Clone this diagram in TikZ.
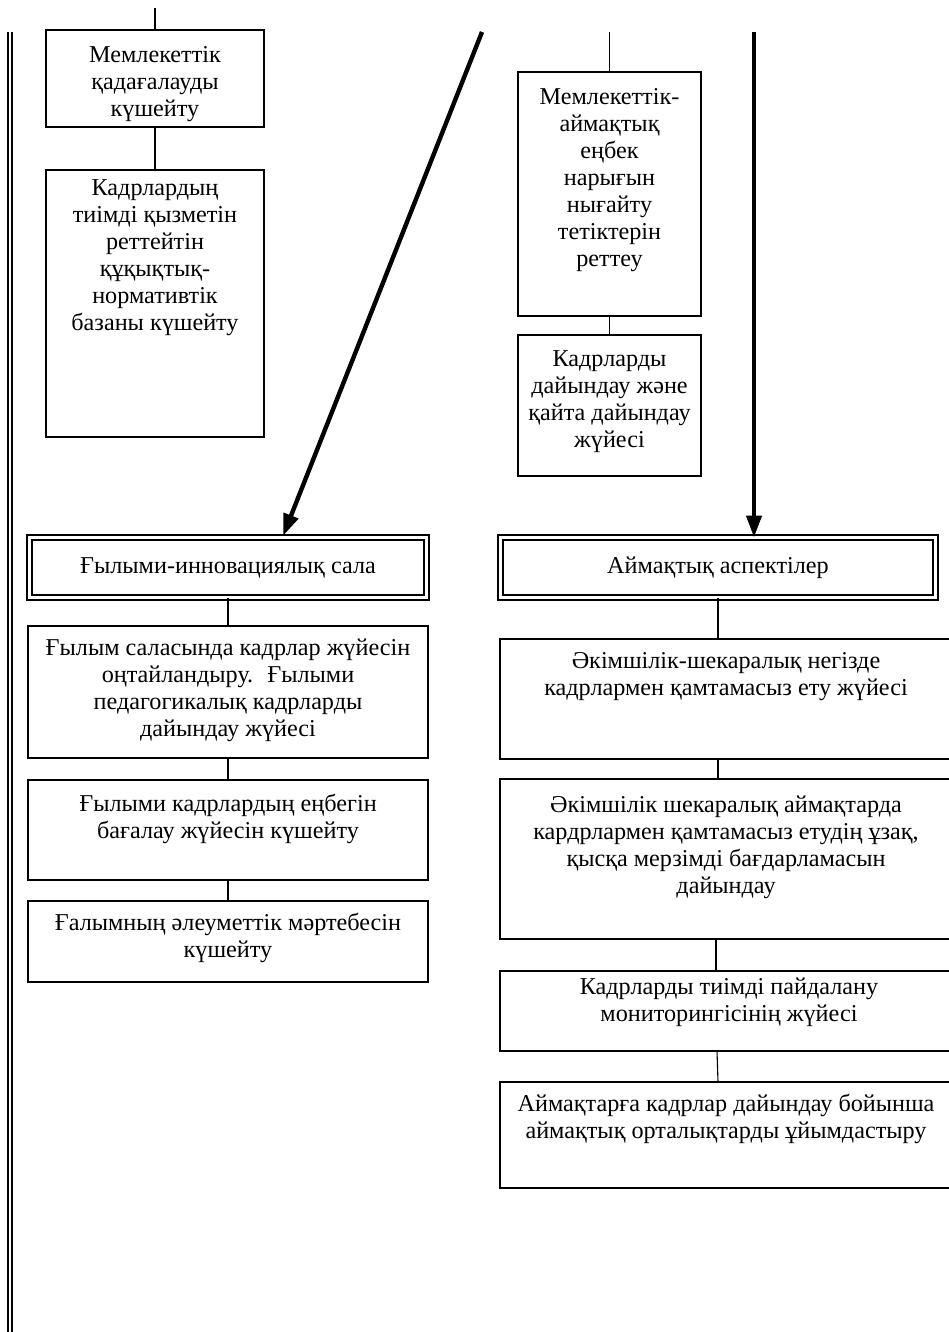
\documentclass[tikz,border=0pt]{standalone}
\usepackage{fontspec}
\setmainfont{Liberation Serif}
\usetikzlibrary{arrows.meta}
\begin{document}
\begin{tikzpicture}[x=1pt,y=-1pt,
  boxframe/.style={draw, line width=1.5pt, inner sep=0pt, outer sep=0pt},
  dblframe/.style={draw, double, line width=1.8pt, double distance=2.6pt, inner sep=0pt, outer sep=0pt},
  boxtext/.style={anchor=north, align=center, inner sep=0pt, font=\fontsize{24.2}{27}\selectfont},
  link/.style={line width=1.1pt},
  bigarrow/.style={line width=4.4pt, -{Triangle[length=22pt,width=15pt]}},
  sideline/.style={double, line width=1.9pt, double distance=2.4pt}
]
\useasboundingbox (0,0) rectangle (948,1332);

% left double rule
\coordinate (sl1) at (10.2,32);
\coordinate (sl2) at (10.2,1345);
\draw[sideline] (sl1) -- (sl2);

% boxes
\node[boxframe, minimum width=218pt, minimum height=97pt]  (A) at (155,78.5) {};
\node[boxframe, minimum width=218pt, minimum height=267pt] (B) at (155,303.5) {};
\node[boxframe, minimum width=183pt, minimum height=244pt] (C) at (609.5,194) {};
\node[boxframe, minimum width=183pt, minimum height=141pt] (D) at (609.5,405.5) {};
\node[dblframe, minimum width=397pt, minimum height=60pt]  (E) at (228,567.5) {};
\node[dblframe, minimum width=435pt, minimum height=60pt]  (I) at (718,567.5) {};
\node[boxframe, minimum width=400pt, minimum height=132pt] (F) at (228,692) {};
\node[boxframe, minimum width=400pt, minimum height=100pt] (G) at (228,830) {};
\node[boxframe, minimum width=400pt, minimum height=81pt]  (H) at (228,941.5) {};
\node[boxframe, minimum width=452pt, minimum height=120pt] (J) at (726,699) {};
\node[boxframe, minimum width=452pt, minimum height=160pt] (K) at (726,859) {};
\node[boxframe, minimum width=452pt, minimum height=80pt]  (L) at (726,1011) {};
\node[boxframe, minimum width=452pt, minimum height=106pt] (M) at (726,1135) {};

% texts (north = first baseline - 21)
\node[boxtext] (tA) at (155,41) {\rule{0pt}{21pt}Мемлекеттік\\қадағалауды\\күшейту};
\node[boxtext] (tB) at (155,174) {\rule{0pt}{21pt}Кадрлардың\\тиімді қызметін\\реттейтін\\құқықтық-\\нормативтік\\базаны күшейту};
\node[boxtext] (tC) at (609.5,83) {\rule{0pt}{21pt}Мемлекеттік-\\аймақтық\\еңбек\\нарығын\\нығайту\\тетіктерін\\реттеу};
\node[boxtext] (tD) at (609.5,345) {\rule{0pt}{21pt}Кадрларды\\дайындау және\\қайта дайындау\\жүйесі};
\node[boxtext] (tE) at (228,552) {\rule{0pt}{21pt}Ғылыми-инновациялық сала};
\node[boxtext] (tI) at (718,552) {\rule{0pt}{21pt}Аймақтық аспектілер};
\node[boxtext] (tF) at (228,634) {\rule{0pt}{21pt}Ғылым саласында кадрлар жүйесін\\оңтайландыру.~ Ғылыми\\педагогикалық кадрларды\\дайындау жүйесі};
\node[boxtext] (tG) at (228,790) {\rule{0pt}{21pt}Ғылыми кадрлардың еңбегін\\бағалау жүйесін күшейту};
\node[boxtext] (tH) at (228,909) {\rule{0pt}{21pt}Ғалымның әлеуметтік мәртебесін\\күшейту};
\node[boxtext] (tJ) at (726,647) {\rule{0pt}{21pt}Әкімшілік-шекаралық негізде\\кадрлармен қамтамасыз ету жүйесі};
\node[boxtext] (tK) at (726,791) {\rule{0pt}{21pt}Әкімшілік шекаралық аймақтарда\\кардрлармен қамтамасыз етудің ұзақ,\\қысқа мерзімді бағдарламасын\\дайындау};
\node[boxtext] (tL) at (729,973) {\rule{0pt}{21pt}Кадрларды тиімді пайдалану\\мониторингісінің жүйесі};
\node[boxtext] (tM) at (726,1090) {\rule{0pt}{21pt}Аймақтарға кадрлар дайындау бойынша\\аймақтық орталықтарды ұйымдастыру};

% thin connectors
\coordinate (topA) at (155,8);
\draw[link] (topA) -- (A.north);
\draw[link] (A.south) -- (B.north);
\coordinate (topC) at (609.5,32);
\draw[link] (topC) -- (C.north);
\draw[link] (C.south) -- (D.north);
\draw[link] (E.south) -- (F.north);
\draw[link] (F.south) -- (G.north);
\draw[link] (G.south) -- (H.north);
\draw[link] (I.south) -- (I.south |- J.north);
\draw[link] (I.south |- J.south) -- (I.south |- K.north);
\coordinate (kx) at (716,0);
\draw[link] (kx |- K.south) -- (kx |- L.north);
\coordinate (lx1) at (717,0);
\coordinate (lx2) at (718,0);
\draw[link] (lx1 |- L.south) -- (lx2 |- M.north);

% thick arrows
\coordinate (arrD) at (482,32);
\coordinate (arrDend) at (283,536);
\draw[bigarrow] (arrD) -- (arrDend);
\coordinate (arrV) at (754,32);
\draw[bigarrow] (arrV) -- (arrV |- I.north);
\end{tikzpicture}
\end{document}
